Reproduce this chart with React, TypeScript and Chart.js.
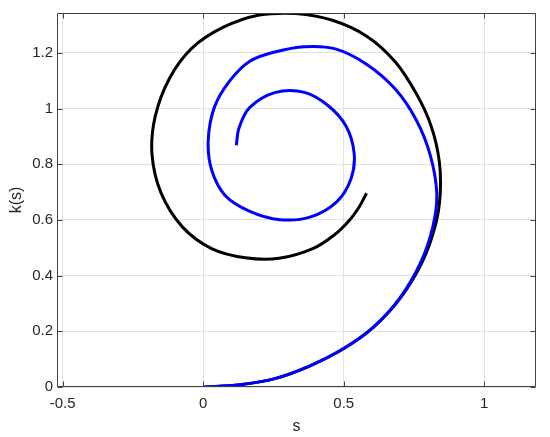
import React, { useEffect, useRef } from "react";
import { Chart, registerables } from "chart.js";

Chart.register(...registerables);

// Blue spiral (s, k(s))
const blueS = [
  0.000, 0.130, 0.255, 0.380, 0.500, 0.605, 0.700, 0.775, 0.818, 0.831,
  0.808, 0.759, 0.684, 0.581, 0.470, 0.360, 0.255, 0.166, 0.095, 0.040,
  0.018, 0.030, 0.078, 0.166, 0.273, 0.380, 0.475, 0.526, 0.537, 0.508,
  0.445, 0.360, 0.255, 0.166, 0.128, 0.118,
];
const blueK = [
  0.000, 0.008, 0.030, 0.076, 0.138, 0.214, 0.320, 0.450, 0.580, 0.696,
  0.832, 0.957, 1.069, 1.159, 1.214, 1.222, 1.203, 1.170, 1.100, 1.005,
  0.886, 0.780, 0.688, 0.631, 0.601, 0.610, 0.665, 0.748, 0.840, 0.937,
  1.010, 1.058, 1.057, 1.004, 0.932, 0.868,
];

// Black spiral (s, k(s))
const blackS = [
  0.000, 0.130, 0.255, 0.380, 0.500, 0.605, 0.702, 0.780, 0.826, 0.843,
  0.840, 0.812, 0.760, 0.683, 0.583, 0.460, 0.330, 0.200, 0.072, -0.040,
  -0.120, -0.171, -0.182, -0.150, -0.074, 0.030, 0.150, 0.270, 0.390, 0.465,
  0.522, 0.557, 0.581,
];
const blackK = [
  0.000, 0.008, 0.030, 0.076, 0.138, 0.214, 0.320, 0.450, 0.580, 0.690,
  0.810, 0.934, 1.050, 1.168, 1.259, 1.317, 1.341, 1.336, 1.292, 1.217,
  1.108, 0.970, 0.835, 0.697, 0.575, 0.497, 0.464, 0.462, 0.497, 0.545,
  0.601, 0.650, 0.696,
];

const xTicks = [-0.5, 0, 0.5, 1];
const xTickLabels = ["-0.5", "0", "0.5", "1"];
const yTicks = [0, 0.2, 0.4, 0.6, 0.8, 1, 1.2];
const yTickLabels = ["0", "0.2", "0.4", "0.6", "0.8", "1", "1.2"];

const X_MIN = -0.52;
const X_MAX = 1.184;
const Y_MIN = 0;
const Y_MAX = 1.343;

const AXIS_COLOR = "#404040";
const TEXT_COLOR = "#262626";
const GRID_COLOR = "#e2e2e2";
const FONT = "'Liberation Sans', Arial, Helvetica, sans-serif";

const toPoints = (xs: number[], ys: number[]) => xs.map((x, i) => ({ x, y: ys[i] }));

const boxPlugin = {
  id: "matlabBox",
  afterDatasetsDraw(chart: any) {
    const { ctx, chartArea, scales } = chart;
    const { left, right, top, bottom } = chartArea;
    const xs = scales.x;
    const ys = scales.y;
    const tl = 5;
    ctx.save();
    ctx.strokeStyle = AXIS_COLOR;
    ctx.lineWidth = 1;
    ctx.beginPath();
    const L = Math.round(left) + 0.5;
    const R = Math.round(right) - 0.5;
    const T = Math.round(top) + 0.5;
    const B = Math.round(bottom) - 0.5;
    ctx.moveTo(L, T);
    ctx.lineTo(R, T);
    ctx.lineTo(R, B);
    ctx.lineTo(L, B);
    ctx.closePath();
    xTicks.forEach((v) => {
      const px = Math.round(xs.getPixelForValue(v)) + 0.5;
      ctx.moveTo(px, B);
      ctx.lineTo(px, B - tl);
      ctx.moveTo(px, T);
      ctx.lineTo(px, T + tl);
    });
    yTicks.forEach((v) => {
      const py = Math.round(ys.getPixelForValue(v)) + 0.5;
      ctx.moveTo(L, py);
      ctx.lineTo(L + tl, py);
      ctx.moveTo(R, py);
      ctx.lineTo(R - tl, py);
    });
    ctx.stroke();
    ctx.restore();
  },
};

export default function App() {
  const canvasRef = useRef<HTMLCanvasElement | null>(null);

  useEffect(() => {
    if (!canvasRef.current) return;
    const chart = new Chart(canvasRef.current, {
      type: "scatter",
      data: {
        datasets: [
          {
            label: "blue",
            data: toPoints(blueS, blueK),
            showLine: true,
            borderColor: "rgb(0,0,255)",
            backgroundColor: "rgb(0,0,255)",
            borderWidth: 3,
            pointRadius: 0,
            tension: 0.36,
            fill: false,
          },
          {
            label: "black",
            data: toPoints(blackS, blackK),
            showLine: true,
            borderColor: "#000000",
            backgroundColor: "#000000",
            borderWidth: 3,
            pointRadius: 0,
            tension: 0.36,
            fill: false,
          },
        ],
      },
      options: {
        animation: false,
        responsive: false,
        maintainAspectRatio: false,
        layout: { padding: { left: 0, top: 10, right: 14, bottom: 0 } },
        plugins: {
          legend: { display: false },
          tooltip: { enabled: false },
        },
        scales: {
          x: {
            type: "linear",
            min: X_MIN,
            max: X_MAX,
            afterBuildTicks: (s: any) => {
              s.ticks = xTicks.map((v) => ({ value: v }));
            },
            afterFit: (s: any) => {
              s.height = 50;
            },
            ticks: {
              autoSkip: false,
              maxRotation: 0,
              minRotation: 0,
              padding: 8,
              color: TEXT_COLOR,
              font: { family: FONT, size: 15 },
              callback: (v: any) => {
                const i = xTicks.indexOf(Number(v));
                return i >= 0 ? xTickLabels[i] : "";
              },
            },
            grid: { color: GRID_COLOR, drawTicks: false, lineWidth: 1 },
            border: { display: false },
            title: {
              display: true,
              text: "s",
              color: TEXT_COLOR,
              font: { family: FONT, size: 16 },
              padding: { top: 0, bottom: 1 },
            },
          },
          y: {
            type: "linear",
            min: Y_MIN,
            max: Y_MAX,
            afterBuildTicks: (s: any) => {
              s.ticks = yTicks.map((v) => ({ value: v }));
            },
            afterFit: (s: any) => {
              s.width = 57;
            },
            ticks: {
              autoSkip: false,
              padding: 4,
              color: TEXT_COLOR,
              font: { family: FONT, size: 15 },
              callback: (v: any) => {
                const i = yTicks.indexOf(Number(v));
                return i >= 0 ? yTickLabels[i] : "";
              },
            },
            grid: { color: GRID_COLOR, drawTicks: false, lineWidth: 1 },
            border: { display: false },
            title: {
              display: true,
              text: "k(s)",
              color: TEXT_COLOR,
              font: { family: FONT, size: 16 },
              padding: { top: 7, bottom: 0 },
            },
          },
        },
      },
      plugins: [boxPlugin],
    });
    return () => chart.destroy();
  }, []);

  return (
    <div
      style={{
        position: "fixed",
        left: 0,
        top: 0,
        width: 550,
        height: 437,
        background: "#ffffff",
      }}
    >
      <canvas ref={canvasRef} width={550} height={437} style={{ width: 550, height: 437 }} />
    </div>
  );
}
